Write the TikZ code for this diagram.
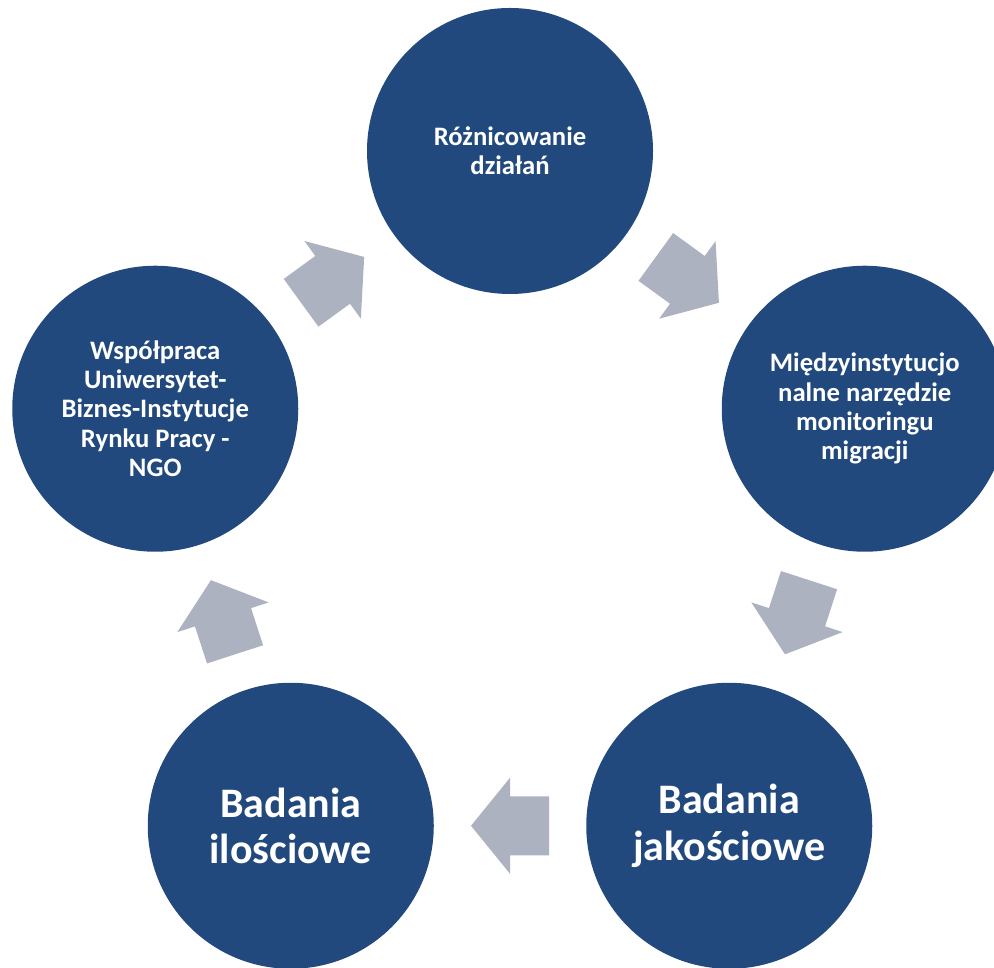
\documentclass[tikz,border=0pt]{standalone}
\usepackage{fontspec}
\setmainfont{Carlito}
\usetikzlibrary{calc}

\begin{document}
\begin{tikzpicture}[x=0.75pt,y=0.75pt,
    bubble/.style={circle, fill=circleblue, inner sep=0pt, minimum size=214.5pt,
      text=white, align=center, font=\bfseries\fontsize{20}{22}\selectfont},
    bigbubble/.style={bubble, font=\bfseries\fontsize{31.5}{35}\selectfont},
    blockarrow/.pic={
      \fill[arrowgray] (-39,-29.5) -- (0,-29.5) -- (0,-48) -- (39,0)
        -- (0,48) -- (0,29.5) -- (-39,29.5) -- cycle;
    }]
\definecolor{circleblue}{RGB}{33,73,125}
\definecolor{arrowgray}{RGB}{173,178,193}
  \useasboundingbox (0,0) rectangle (994,967);
  \clip (0,0) rectangle (994,967);

  \coordinate (O) at (510,443);   % centre of the cycle

  \node[bubble] (top) at ($(O)+(90:373)$) {Różnicowanie\\działań};
  \node[bubble] (right) at ($(O)+(18:373)$)
    {Międzyinstytucjo\\nalne narzędzie\\monitoringu\\migracji};
  \node[bigbubble] (quali) at ($(O)+(-54:373)$) {Badania\\jakościowe};
  \node[bigbubble] (quanti) at ($(O)+(-126:373)$) {Badania\\ilościowe};
  \node[bubble] (left) at ($(O)+(162:373)$)
    {Współpraca\\Uniwersytet-\\Biznes-Instytucje\\Rynku Pracy -\\NGO};

  % arrows between the circles, clockwise
  \pic[rotate=-36]  at ($(top)!0.5!(right)$)    {blockarrow};
  \pic[rotate=-108] at ($(right)!0.5!(quali)$)  {blockarrow};
  \pic[rotate=180]  at ($(quali)!0.5!(quanti)$) {blockarrow};
  \pic[rotate=108]  at ($(quanti)!0.5!(left)$)  {blockarrow};
  \pic[rotate=36]   at ($(left)!0.5!(top)$)     {blockarrow};

\end{tikzpicture}
\end{document}
